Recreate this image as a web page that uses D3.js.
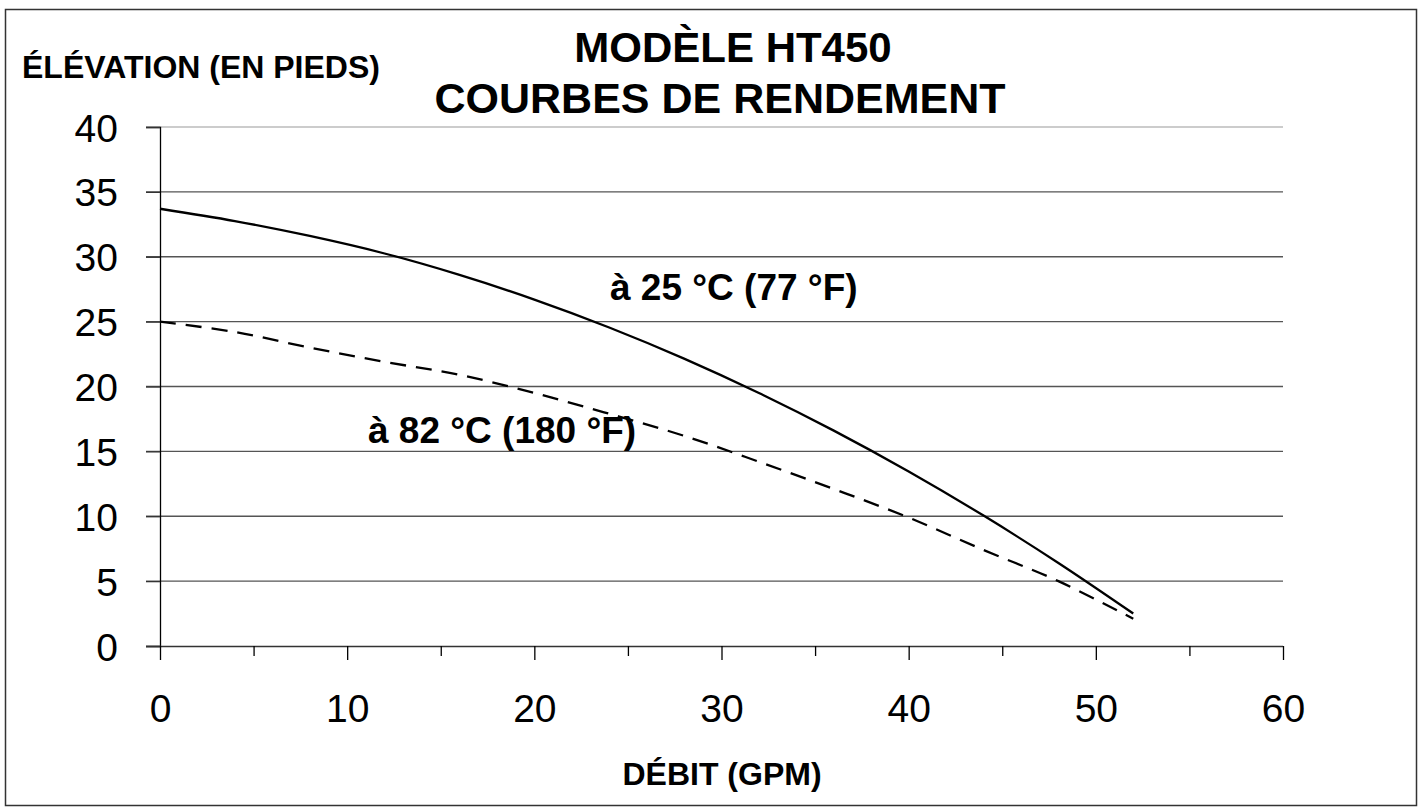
<!DOCTYPE html>
<html>
<head>
<meta charset="utf-8">
<script src="https://cdn.jsdelivr.net/npm/d3@7"></script>
<style>
  body { margin: 0; background: #fff; }
  text { font-family: "Liberation Sans", Arial, sans-serif; fill: #000; }
</style>
</head>
<body>
<svg width="1419" height="808"></svg>
<script>
var svg = d3.select("svg");

// data
var xTicks = [0, 10, 20, 30, 40, 50, 60];
var xMinorTicks = [5, 15, 25, 35, 45, 55];
var yTicks = [0, 5, 10, 15, 20, 25, 30, 35, 40];
var flow = [0, 4, 8, 12, 16, 20, 24, 28, 32, 36, 40, 44, 48, 52];
var head25 = [33.7, 32.75, 31.6, 30.25, 28.6, 26.7, 24.55, 22.15, 19.5, 16.6, 13.45, 10.05, 6.4, 2.5];
var head82 = [25.0, 24.2, 23.0, 21.9, 20.9, 19.5, 17.9, 16.2, 14.2, 12.1, 9.9, 7.4, 5.0, 2.1];

var x = d3.scaleLinear().domain([0, 60]).range([160, 1283]);
var y = d3.scaleLinear().domain([0, 40]).range([646, 127]);

// outer frame
svg.append("rect")
	.attr("x", 5.5).attr("y", 9.5)
	.attr("width", 1411).attr("height", 796)
	.attr("fill", "none")
	.attr("stroke", "#333")
	.attr("stroke-width", 1.5);

// horizontal grid lines (also act as y ticks)
svg.append("g")
	.attr("class", "grid")
	.selectAll("line")
	.data(yTicks.filter(d => d > 0))
	.enter().append("line")
	.attr("x1", 146)
	.attr("x2", x(60))
	.attr("y1", d => y(d))
	.attr("y2", d => y(d))
	.attr("stroke", d => d == 40 ? "#bbb" : "#555")
	.attr("stroke-width", 1.3);

// y axis
var yAxis = svg.append("g")
	.attr("transform", "translate(160,0)")
	.call(d3.axisLeft(y).tickValues(yTicks).tickSize(14).tickPadding(28));
yAxis.select(".domain").attr("stroke", "#000").attr("stroke-width", 1.3);
yAxis.selectAll(".tick line").attr("stroke", "#333").attr("stroke-width", 1.3);
yAxis.selectAll("text")
	.style("font-size", "39px")
	.style("font-family", "'Liberation Sans', Arial, sans-serif")
	.attr("dy", "0.36em");

// x axis
var xAxis = svg.append("g")
	.attr("transform", "translate(0," + y(0) + ")")
	.call(d3.axisBottom(x).tickValues(xTicks).tickSize(14).tickSizeOuter(0).tickPadding(34));
xAxis.select(".domain").attr("stroke", "#333").attr("stroke-width", 1.3)
	.attr("d", "M146,0.5H" + x(60));
xAxis.selectAll(".tick line").attr("stroke", "#000").attr("stroke-width", 1.3);
xAxis.selectAll("text")
	.style("font-size", "39px")
	.style("font-family", "'Liberation Sans', Arial, sans-serif");

svg.append("g")
	.attr("transform", "translate(0," + y(0) + ")")
	.call(d3.axisBottom(x).tickValues(xMinorTicks).tickSize(10).tickFormat(""))
	.call(g => g.select(".domain").remove())
	.selectAll(".tick line").attr("stroke", "#000").attr("stroke-width", 1.3);

// curves
var headLine = d3.line()
	.x((d, i) => x(flow[i]))
	.y(d => y(d))
	.curve(d3.curveCatmullRom);

svg.append("path")
	.datum(head25)
	.attr("d", headLine)
	.attr("fill", "none")
	.attr("stroke", "#000")
	.attr("stroke-width", 2.3);

svg.append("path")
	.datum(head82)
	.attr("d", headLine)
	.attr("fill", "none")
	.attr("stroke", "#000")
	.attr("stroke-width", 2.3)
	.attr("stroke-dasharray", "16,10");

// titles and labels
svg.append("text")
	.attr("x", 733).attr("y", 62)
	.attr("text-anchor", "middle")
	.style("font-size", "42px").style("font-weight", "bold")
	.text("MODÈLE HT450");

svg.append("text")
	.attr("x", 720).attr("y", 113)
	.attr("text-anchor", "middle")
	.style("font-size", "43px").style("font-weight", "bold")
	.text("COURBES DE RENDEMENT");

svg.append("text")
	.attr("x", 22).attr("y", 78)
	.style("font-size", "32px").style("font-weight", "bold")
	.text("ÉLÉVATION (EN PIEDS)");

svg.append("text")
	.attr("x", 722).attr("y", 785)
	.attr("text-anchor", "middle")
	.style("font-size", "32px").style("font-weight", "bold")
	.text("DÉBIT (GPM)");

svg.append("text")
	.attr("x", 610).attr("y", 300)
	.style("font-size", "37px").style("font-weight", "bold")
	.text("à 25 °C (77 °F)");

svg.append("text")
	.attr("x", 368).attr("y", 443)
	.style("font-size", "37px").style("font-weight", "bold")
	.text("à 82 °C (180 °F)");
</script>
</body>
</html>
